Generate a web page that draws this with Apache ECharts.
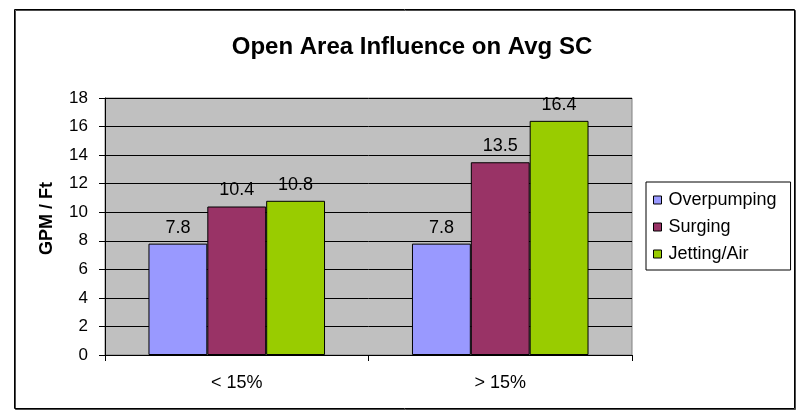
<!DOCTYPE html>
<html>
<head>
<meta charset="utf-8">
<script src="https://cdn.jsdelivr.net/npm/echarts@6/dist/echarts.min.js"></script>
<style>
html,body{margin:0;padding:0;background:#fff;}
#chart{width:798px;height:411px;}
</style>
</head>
<body>
<div id="chart"></div>
<script>
// Average SC by open-area bucket, per development method
const categories = ['< 15%', '> 15%'];
const seriesNames = ['Overpumping', 'Surging', 'Jetting/Air'];
const overpumping = [7.8, 7.8];
const surging = [10.4, 13.5];
const jettingAir = [10.8, 16.4];
const yTicks = [0, 2, 4, 6, 8, 10, 12, 14, 16, 18];

const colors = ['#9999FF', '#993366', '#99CC00'];
const font = 'Arial, "Liberation Sans", sans-serif';

const chart = echarts.init(document.getElementById('chart'), null, { renderer: 'canvas' });

function barSeries(name, data, color) {
  return {
    name: name,
    type: 'bar',
    data: data,
    barGap: '0%',
    barCategoryGap: '33%',
    itemStyle: { color: color, borderColor: '#000', borderWidth: 1 },
    label: {
      show: true,
      position: 'top',
      distance: 7,
      color: '#000',
      fontFamily: font,
      fontSize: 18
    }
  };
}

chart.setOption({
  animation: false,
  backgroundColor: '#fff',
  title: {
    text: 'Open Area Influence on Avg SC',
    left: 407,
    top: 30,
    textAlign: 'center',
    textStyle: { fontFamily: font, fontSize: 24, fontWeight: 'bold', color: '#000' }
  },
  graphic: [{
    type: 'rect',
    shape: { x: 14.5, y: 9.5, width: 780, height: 399 },
    style: { fill: 'none', stroke: '#000', lineWidth: 1, shadowColor: 'rgba(0,0,0,0.7)', shadowOffsetX: 1, shadowOffsetY: 1 },
    z: -1
  }],
  legend: {
    orient: 'vertical',
    left: 646,
    top: 182,
    padding: [9, 14, 7, 7],
    itemGap: 9,
    itemWidth: 8,
    itemHeight: 8,
    borderColor: '#000',
    borderWidth: 1,
    icon: 'rect',
    itemStyle: { borderColor: '#000', borderWidth: 1 },
    textStyle: { fontFamily: font, fontSize: 18, color: '#000', padding: [0, 0, 0, 2] },
    data: seriesNames
  },
  grid: {
    left: 105,
    right: 166,
    top: 98,
    bottom: 56,
    show: true,
    backgroundColor: '#C0C0C0',
    borderColor: '#808080',
    borderWidth: 1
  },
  xAxis: {
    type: 'category',
    data: categories,
    axisLine: { lineStyle: { color: '#000', width: 1 } },
    axisTick: { show: true, inside: false, length: 6, alignWithLabel: false, lineStyle: { color: '#000' } },
    axisLabel: { fontFamily: font, fontSize: 18, color: '#000', margin: 19 }
  },
  yAxis: {
    type: 'value',
    min: yTicks[0],
    max: yTicks[yTicks.length - 1],
    interval: 2,
    name: 'GPM / Ft',
    nameLocation: 'middle',
    nameGap: 49,
    nameTextStyle: { fontFamily: font, fontSize: 18, fontWeight: 'bold', color: '#000', padding: [0, 0, 0, 16] },
    axisLine: { show: true, lineStyle: { color: '#000', width: 1 } },
    axisTick: { show: true, inside: false, length: 6, lineStyle: { color: '#000' } },
    axisLabel: { fontFamily: font, fontSize: 17, color: '#000', margin: 17 },
    splitLine: { show: true, lineStyle: { color: '#000', width: 1 } }
  },
  series: [
    barSeries(seriesNames[0], overpumping, colors[0]),
    barSeries(seriesNames[1], surging, colors[1]),
    barSeries(seriesNames[2], jettingAir, colors[2])
  ]
});
</script>
</body>
</html>
